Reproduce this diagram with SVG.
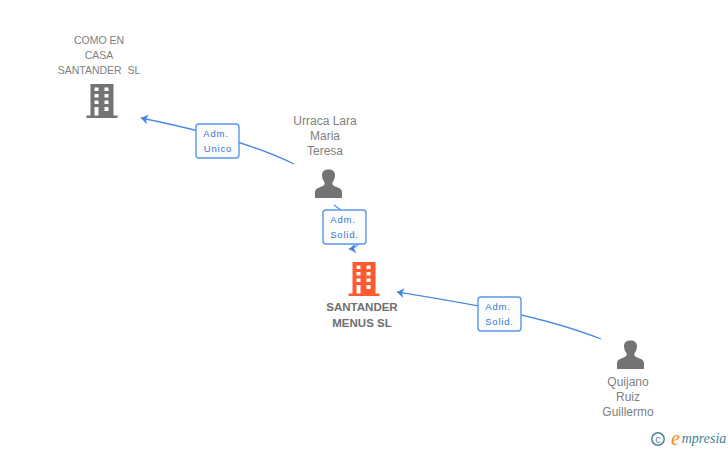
<svg xmlns="http://www.w3.org/2000/svg" width="728" height="450" viewBox="0 0 728 450">
<style>
text{font-family:"Liberation Sans",Arial,sans-serif;text-anchor:middle}
.n{font-size:12px;fill:#808080}
.s{font-size:10.500px;fill:#808080}
.b{font-size:11.500px;fill:#6f6f6f;font-weight:bold}
.l{font-size:9.500px;fill:#2f78d8;letter-spacing:.8px}
.c{fill:none;stroke:#4a8ae6;stroke-width:1.300}
.box{fill:#fcfcfc;stroke:#5b97ea;stroke-width:1.400}
.g{fill:#737373}
.w{fill:#fff}
</style>
<defs>
<marker id="a" viewBox="0 0 10 10" refX="9" refY="5" markerWidth="10" markerHeight="10" markerUnits="userSpaceOnUse" orient="auto"><path d="M9 5L2 0L4 5L2 10Z" fill="#3f84e4"/></marker>
<g id="bld">
<path d="M-11.500 -18H11.500V13.500H15.500V16H-15.500V13.500H-11.500Z"/>
<path class="w" d="M-7.500 -14.500h4v3.500h-4zM2.500 -14.500h4v3.500h-4zM-7.500 -8h4v3.500h-4zM2.500 -8h4v3.500h-4zM-7.500 -1.500h4v3.500h-4zM2.500 -1.500h4v3.500h-4zM-7.500 5h4v8.500h-4zM2.500 5h4v4h-4z"/>
</g>
<path id="p" class="g" d="M-13.500 14V8C-13.500 4-8 3.500-5 1.500C-3.500 .5-3.500-1-4.500-2.500C-6-4.500-6.500-7-6.500-9C-6.500-12.500-4-14.500 0-14.500C4-14.500 6.500-12.500 6.500-9C6.500-7 6-4.500 4.500-2.500C3.500-1 3.500 .5 5 1.500C8 3.500 13.500 4 13.500 8V14Z"/>
</defs>
<g id="connectors">
<path class="c" d="M294 164C260 147 205 131 141 118" marker-end="url(#a)"/>
<path class="c" d="M334 205C350 215 372 247 349 249" marker-end="url(#a)"/>
<path class="c" d="M601 339C540 315 470 304 397 292" marker-end="url(#a)"/>
</g>
<g id="edge-unico"><rect class="box" x="196" y="124" width="43" height="34" rx="3"/><text class="l" x="216" y="137">Adm.</text><text class="l" x="218" y="152">Unico</text></g>
<g id="edge-solid1"><rect class="box" x="323" y="210" width="43" height="34" rx="3"/><text class="l" x="343" y="223">Adm.</text><text class="l" x="344.500" y="238">Solid.</text></g>
<g id="edge-solid2"><rect class="box" x="478" y="297" width="43" height="34" rx="3"/><text class="l" x="498" y="310">Adm.</text><text class="l" x="499.500" y="325">Solid.</text></g>
<g id="node-como"><text class="s" x="99" y="44">COMO EN</text><text class="s" x="99" y="59">CASA</text><text class="s" x="99" y="74">SANTANDER&#160; SL</text><use href="#bld" x="102" y="102" fill="#737373"/></g>
<g id="node-urraca"><text class="n" x="325" y="125">Urraca Lara</text><text class="n" x="325" y="140">Maria</text><text class="n" x="325" y="155">Teresa</text><use href="#p" x="328.500" y="184"/></g>
<g id="node-santander"><use href="#bld" x="364" y="280" fill="#ff5a30"/><text class="b" x="362" y="311">SANTANDER</text><text class="b" x="362" y="327">MENUS SL</text></g>
<g id="node-quijano"><use href="#p" x="630.500" y="355"/><text class="n" x="628" y="386">Quijano</text><text class="n" x="628" y="401">Ruiz</text><text class="n" x="628" y="416">Guillermo</text></g>
<g id="logo"><circle cx="658" cy="439" r="6.200" fill="none" stroke="#4b8296" stroke-width="1.500"/><text x="658" y="442.500" style="font-size:10px;fill:#4b8296">c</text><text x="675.500" y="445" style="font-size:20px;font-family:'Liberation Serif',serif;font-style:italic;fill:#f08a1d">e</text><text x="704" y="443" style="font-size:14px;font-family:'Liberation Serif',serif;font-style:italic;fill:#3f7f95">mpresia</text></g>
</svg>
